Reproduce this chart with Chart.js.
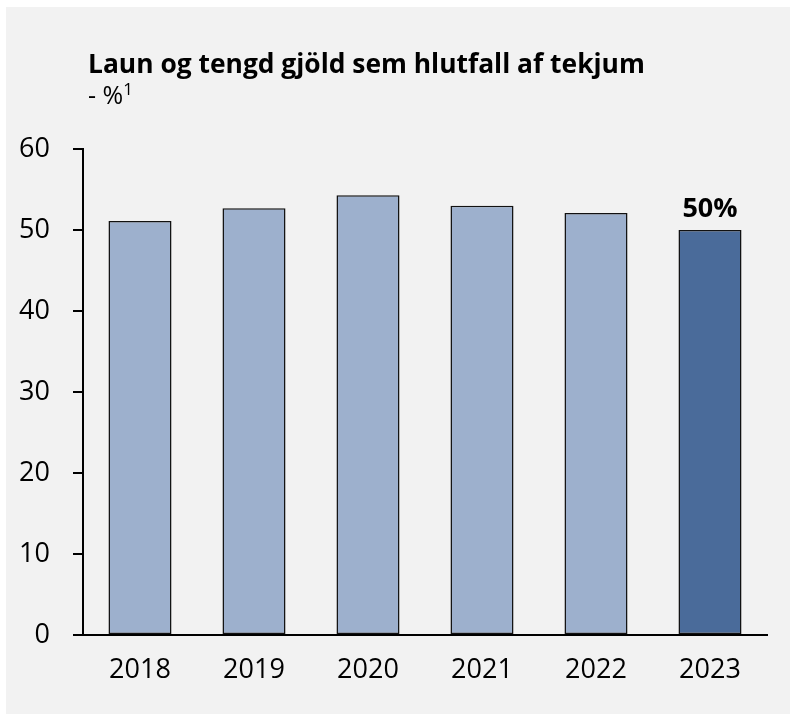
<!DOCTYPE html>
<html>
<head>
<meta charset="utf-8">
<script src="https://cdn.jsdelivr.net/npm/chart.js@4.4.1/dist/chart.umd.min.js"></script>
<style>
    body { margin: 0; background: #ffffff; }
    #box { position: absolute; left: 6px; top: 7px; width: 784px; height: 707px; background: #f2f2f2; }
    #title { position: absolute; left: 82px; top: 38px; font: bold 26.4px "Open Sans", sans-serif; color: #000; line-height: normal; white-space: nowrap; }
    #subtitle { position: absolute; left: 82px; top: 70px; font: 25px "Open Sans", sans-serif; color: #000; line-height: normal; }
    #subtitle sup { font-size: 17px; vertical-align: 9px; line-height: 0; }
    canvas { position: absolute; left: 0; top: 0; }
</style>
</head>
<body>
<div id="box">
    <canvas id="chart" width="784" height="707"></canvas>
    <div id="title">Laun og tengd gjöld sem hlutfall af tekjum</div>
    <div id="subtitle">- %<sup>1</sup></div>
</div>
<script>
const years = ['2018', '2019', '2020', '2021', '2022', '2023'];
const shares = [51.1, 52.7, 54.3, 53.0, 52.1, 50.0];
const valueLabels = ['', '', '', '', '', '50%'];
const barColors = ['#9db0cd', '#9db0cd', '#9db0cd', '#9db0cd', '#9db0cd', '#4a6b9a'];

const labelPlugin = {
    id: 'valueLabels',
    afterDatasetsDraw(chart) {
        const ctx = chart.ctx;
        const meta = chart.getDatasetMeta(0);
        ctx.save();
        ctx.font = 'bold 27px "Open Sans", sans-serif';
        ctx.fillStyle = '#000';
        ctx.textAlign = 'center';
        ctx.textBaseline = 'alphabetic';
        meta.data.forEach((bar, i) => {
            if (valueLabels[i]) ctx.fillText(valueLabels[i], bar.x, bar.y - 13);
        });
        ctx.restore();
    }
};

new Chart(document.getElementById('chart'), {
    type: 'bar',
    data: {
        labels: years,
        datasets: [{
            data: shares,
            backgroundColor: barColors,
            borderColor: '#111',
            borderWidth: 1.5,
            borderSkipped: false,
            categoryPercentage: 1,
            barPercentage: 0.553
        }]
    },
    options: {
        responsive: false,
        animation: false,
        layout: { padding: { top: 142, right: 23, left: 0, bottom: 0 } },
        plugins: { legend: { display: false }, tooltip: { enabled: false } },
        scales: {
            x: {
                grid: { display: false },
                border: { display: true, color: '#000', width: 2 },
                ticks: { color: '#000', font: { family: 'Open Sans', size: 27 }, padding: 11 },
                afterFit(scale) { scale.height = 79; }
            },
            y: {
                min: 0,
                max: 60,
                grid: { drawOnChartArea: false, drawTicks: true, tickLength: 10, color: '#000', lineWidth: 2 },
                border: { display: true, color: '#000', width: 2 },
                ticks: { stepSize: 10, color: '#000', font: { family: 'Open Sans', size: 27 }, padding: 23 },
                afterFit(scale) { scale.width = 77; }
            }
        }
    },
    plugins: [labelPlugin]
});
</script>
</body>
</html>
